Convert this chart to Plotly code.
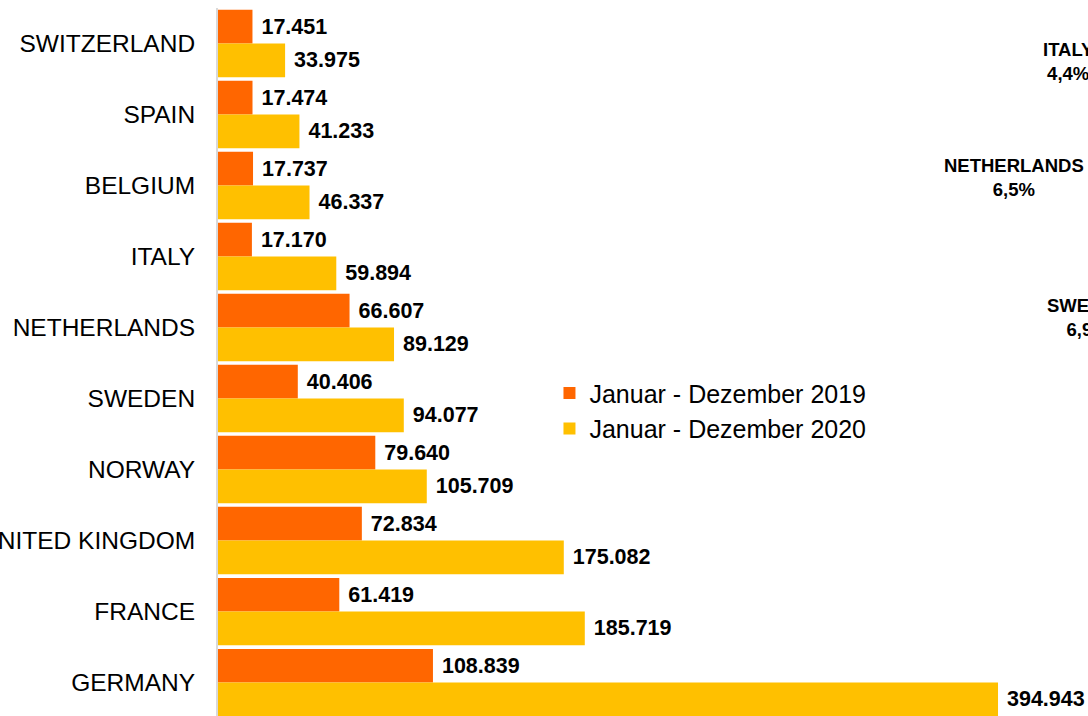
import plotly.graph_objects as go

FONT = "Liberation Sans, Arial, sans-serif"
ORANGE = "#FF6600"
YELLOW = "#FFC000"

countries = ["SWITZERLAND", "SPAIN", "BELGIUM", "ITALY", "NETHERLANDS",
             "SWEDEN", "NORWAY", "UNITED KINGDOM", "FRANCE", "GERMANY"]
values_2019 = [17451, 17474, 17737, 17170, 66607, 40406, 79640, 72834, 61419, 108839]
values_2020 = [33975, 41233, 46337, 59894, 89129, 94077, 105709, 175082, 185719, 394943]

# labels of the pie chart that sits (mostly cut off) to the right
pie_labels = ["ITALY", "NETHERLANDS", "SWEDEN"]
pie_shares = ["4,4%", "6,5%", "6,9%"]
pie_label_pos = [(0.978, 0.925), (0.9146, 0.760), (0.999, 0.563)]


def fmt(v):
    return "\u00a0" + f"{v:,}".replace(",", ".")


fig = go.Figure()
for name, vals, colour in [("Januar - Dezember 2019", values_2019, ORANGE),
                           ("Januar - Dezember 2020", values_2020, YELLOW)]:
    fig.add_trace(go.Bar(
        y=countries, x=vals, name=name, orientation="h",
        marker=dict(color=colour, line=dict(width=0)),
        text=[fmt(v) for v in vals], textposition="outside",
        textfont=dict(family=FONT, size=21.5, color="black", weight="bold"),
        constraintext="none", cliponaxis=False,
    ))

for lab, share, (px_, py_) in zip(pie_labels, pie_shares, pie_label_pos):
    fig.add_annotation(
        x=px_, y=py_, xref="paper", yref="paper", showarrow=False,
        xanchor="center", yanchor="middle",
        text=f"{lab}<br>{share}", align="center",
        font=dict(family=FONT, size=18.5, color="black", weight="bold"),
    )

fig.update_layout(
    width=1088, height=716,
    margin=dict(l=218, r=0, t=8, b=0, autoexpand=False),
    barmode="group", bargap=0.05, bargroupgap=0,
    plot_bgcolor="white", paper_bgcolor="white",
    font=dict(family=FONT, color="black"),
    xaxis=dict(range=[0, 440500], visible=False),
    yaxis=dict(range=[9.47, -0.5], showline=True, linecolor="#d9d9d9", linewidth=2,
               showgrid=False, ticks="", ticklabelstandoff=16, automargin=False,
               tickfont=dict(family=FONT, size=24.5, color="black")),
    legend=dict(x=0.381, y=0.431, xanchor="left", yanchor="middle",
                font=dict(family=FONT, size=25, color="black"),
                bgcolor="rgba(0,0,0,0)"),
)

# drop the browser's default body margin so the figure fills the window exactly
fig.write_html("out.html", config={"displayModeBar": False},
               post_script="document.body.style.margin='0';document.body.style.overflow='hidden';")
